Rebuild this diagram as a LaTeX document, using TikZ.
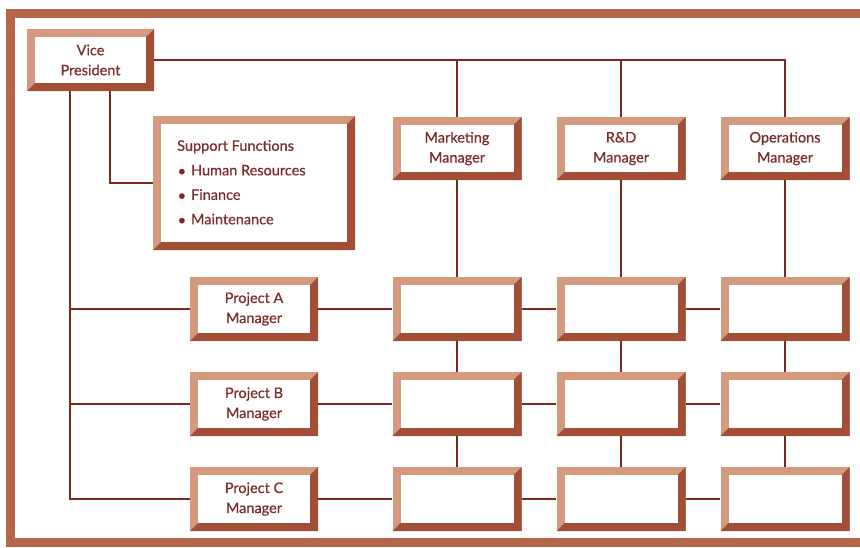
\documentclass[tikz,border=0pt]{standalone}
\usepackage{fontspec}
\setmainfont{Lato}[UprightFeatures={FakeBold=0.5}]
\definecolor{framec}{HTML}{B5654A}
\definecolor{darkb}{HTML}{A34F38}
\definecolor{lightb}{HTML}{D49A80}
\definecolor{linec}{HTML}{7B2A20}
\definecolor{textc}{HTML}{7A2C2A}
\tikzset{
  bevel/.style={minimum width=129pt, minimum height=64pt, fill=lightb, inner sep=0pt,
    align=center, text=textc, font=\fontsize{14.5}{20}\selectfont,
    path picture={
      \fill[darkb] (path picture bounding box.south west) -- (path picture bounding box.south east)
        -- (path picture bounding box.north east)
        -- ([xshift=-8pt,yshift=-8pt]path picture bounding box.north east)
        -- ([xshift=-8pt,yshift=8pt]path picture bounding box.south east)
        -- ([xshift=8pt,yshift=8pt]path picture bounding box.south west) -- cycle;
      \fill[white] ([xshift=8pt,yshift=8pt]path picture bounding box.south west)
        rectangle ([xshift=-8pt,yshift=-8pt]path picture bounding box.north east);
    }},
  conn/.style={draw=linec, line width=2pt},
}
\begin{document}
\begin{tikzpicture}[x=1pt,y=-1pt]
\clip (0,0) rectangle (860,547);
\draw[line width=9pt, framec] (10.5,13) rectangle (868,542.5);
% nodes
\node[bevel, minimum width=127pt, minimum height=62pt] (vp) at (90.5,60) {Vice\\President};
\node[bevel, minimum width=202pt, minimum height=134pt] (sup) at (254,183) {};
\node[anchor=north west, inner sep=0pt, align=left, text=textc, font=\fontsize{14.5}{24.5}\selectfont] (suptxt)
  at (177,140) {Support Functions\\
  \hspace*{0.5pt}{\Large\raisebox{-0.6pt}{\textbullet}}\hspace{5pt}Human Resources\\
  \hspace*{0.5pt}{\Large\raisebox{-0.6pt}{\textbullet}}\hspace{5pt}Finance\\
  \hspace*{0.5pt}{\Large\raisebox{-0.6pt}{\textbullet}}\hspace{5pt}Maintenance};
\node[bevel, minimum height=63pt] (mkt) at (457,148.5) {Marketing\\Manager};
\node[bevel, minimum height=63pt] (rd) at (621,148.5) {R\&D\\Manager};
\node[bevel, minimum height=63pt] (ops) at (785,148.5) {Operations\\Manager};
\node[bevel, minimum width=128pt] (pa) at (254,309) {Project A\\Manager};
\node[bevel, minimum width=128pt] (pb) at (254,404) {Project B\\Manager};
\node[bevel, minimum width=128pt] (pc) at (254,499) {Project C\\Manager};
\foreach \r/\y in {a/309,b/404,c/499}{
  \node[bevel] (m\r) at (457,\y) {};
  \node[bevel] (r\r) at (621,\y) {};
  \node[bevel] (o\r) at (785,\y) {};
}
% connectors
\coordinate (vl) at ([xshift=-20.5pt]vp.south);
\coordinate (vr) at ([xshift=19.5pt]vp.south);
\draw[conn] (vp.east) -| (ops.north);
\draw[conn] (mkt.north) -- (mkt.north |- vp.east);
\draw[conn] (rd.north) -- (rd.north |- vp.east);
\draw[conn] (vr) |- (sup.west);
\draw[conn] (vl) |- (pc.west);
\draw[conn] (pa.west) -- (pa.west -| vl);
\draw[conn] (pb.west) -- (pb.west -| vl);
\draw[conn] (mkt.south) -- (ma.north);
\draw[conn] (ma.south) -- (mb.north);
\draw[conn] (mb.south) -- (mc.north);
\draw[conn] (rd.south) -- (ra.north);
\draw[conn] (ra.south) -- (rb.north);
\draw[conn] (rb.south) -- (rc.north);
\draw[conn] (ops.south) -- (oa.north);
\draw[conn] (oa.south) -- (ob.north);
\draw[conn] (ob.south) -- (oc.north);
\foreach \r in {a,b,c}{
  \draw[conn] (p\r.east) -- (m\r.west);
  \draw[conn] (m\r.east) -- (r\r.west);
  \draw[conn] (r\r.east) -- (o\r.west);
}
\end{tikzpicture}
\end{document}
